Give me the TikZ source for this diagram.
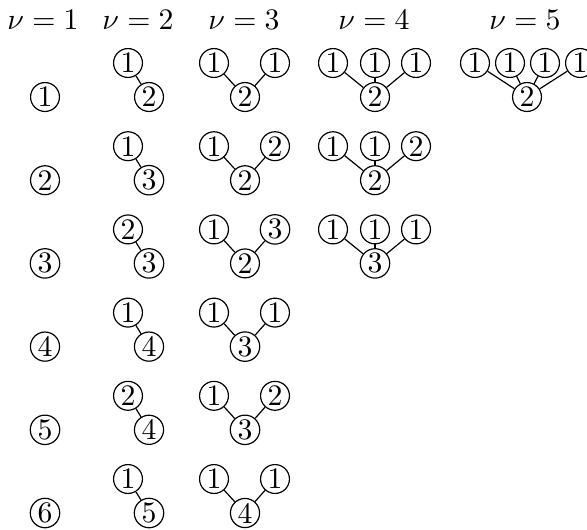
\documentclass[tikz,border=0pt]{standalone}
\usepackage{tikz}
\tikzset{vert/.style={circle, draw, inner sep=0.5pt}}

\begin{document}
\begin{tikzpicture}[x=0.336pt, y=-0.336pt]
    \useasboundingbox (0,0) rectangle (587,529);
    % column headings
    \foreach \n/\x in {1/43, 2/138, 3/244, 4/374, 5/525}
        \node (h\n) at (\x,20) {$\nu=\n$};
    % nu = 1
    \foreach \r in {1,...,6}
        \node[vert] (a-\r) at (45,{97+83.2*(\r-1)}) {\r};
    % nu = 2
    \foreach \r/\t/\b in {1/1/2, 2/1/3, 3/2/3, 4/1/4, 5/2/4, 6/1/5} {
        \node[vert] (b-\r-t) at (128,{63+83.2*(\r-1)}) {\t};
        \node[vert] (b-\r) at (149,{97+83.2*(\r-1)}) {\b};
        \draw (b-\r-t) -- (b-\r);
    }
    % nu = 3
    \foreach \r/\l/\rr/\b in {1/1/1/2, 2/1/2/2, 3/1/3/2, 4/1/1/3, 5/1/2/3, 6/1/1/4} {
        \node[vert] (c-\r-l) at (214,{63+83.2*(\r-1)}) {\l};
        \node[vert] (c-\r-r) at (275,{63+83.2*(\r-1)}) {\rr};
        \node[vert] (c-\r) at (245,{97+83.2*(\r-1)}) {\b};
        \draw (c-\r-l) -- (c-\r) -- (c-\r-r);
    }
    % nu = 4
    \foreach \r/\l/\m/\rr/\b in {1/1/1/1/2, 2/1/1/2/2, 3/1/1/1/3} {
        \node[vert] (d-\r-l) at (333,{63+83.2*(\r-1)}) {\l};
        \node[vert] (d-\r-m) at (375,{63+83.2*(\r-1)}) {\m};
        \node[vert] (d-\r-r) at (416,{63+83.2*(\r-1)}) {\rr};
        \node[vert] (d-\r) at (375,{97+83.2*(\r-1)}) {\b};
        \foreach \k in {l,m,r}
            \draw (d-\r-\k) -- (d-\r);
    }
    % nu = 5
    \node[vert] (e) at (527,97) {2};
    \foreach \k/\x in {1/475, 2/510, 3/545, 4/580} {
        \node[vert] (e-\k) at (\x,63) {1};
        \draw (e-\k) -- (e);
    }
\end{tikzpicture}
\end{document}
